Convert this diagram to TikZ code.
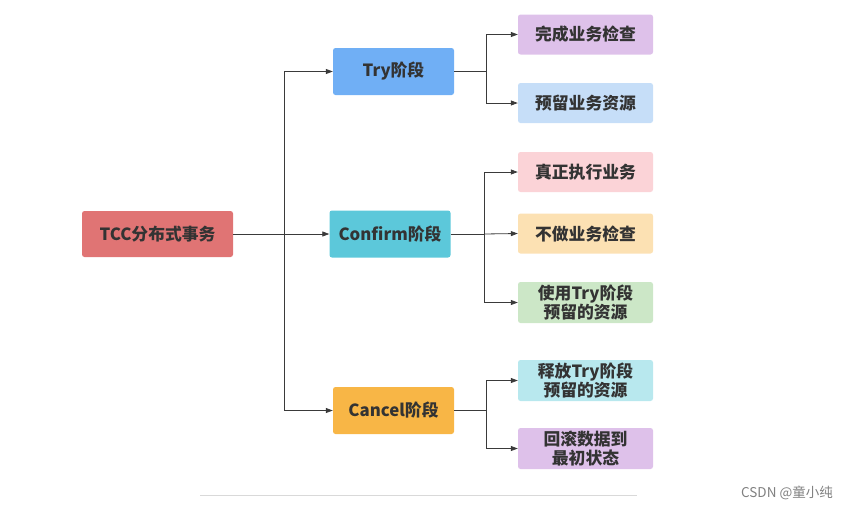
\documentclass[tikz,border=0pt]{standalone}
\usepackage{fontspec}
\setmainfont{Noto Sans CJK SC}
\usetikzlibrary{arrows.meta}
\definecolor{txt}{HTML}{333333}
\definecolor{cRoot}{HTML}{E07474}
\definecolor{cTry}{HTML}{70AFF5}
\definecolor{cConf}{HTML}{5CC8DA}
\definecolor{cCanc}{HTML}{F8B646}
\definecolor{lPurple}{HTML}{DEC1EA}
\definecolor{lBlue}{HTML}{C6DEF8}
\definecolor{lPink}{HTML}{FBD3D7}
\definecolor{lOrange}{HTML}{FCE1B3}
\definecolor{lGreen}{HTML}{CCE7C7}
\definecolor{lCyan}{HTML}{B8E8EE}
\definecolor{lineC}{HTML}{3A3A3A}
\tikzset{
  box/.style={rounded corners=2.5pt, inner sep=0pt, align=center,
    font=\fontsize{16.8}{18.5}\selectfont\bfseries, text=txt},
  stage/.style={box, minimum width=121pt, minimum height=47pt},
  leaf/.style={box, minimum width=135pt, minimum height=40pt},
  conn/.style={draw=lineC, line width=0.8pt, -{Triangle[length=7pt,width=5pt]}},
  plain/.style={draw=lineC, line width=0.8pt}
}
\begin{document}
\begin{tikzpicture}[x=1pt,y=-1pt]
\useasboundingbox (0,0) rectangle (848,509);
\node[box, fill=cRoot, minimum width=151pt, minimum height=46pt] (root) at (157.5,234) {TCC分布式事务};
\node[stage, fill=cTry] (try) at (393.5,71.5) {Try阶段};
\node[stage, fill=cConf] (conf) at (390,234) {Confirm阶段};
\node[stage, fill=cCanc] (canc) at (393.5,410.5) {Cancel阶段};
\node[leaf, fill=lPurple] (t1) at (585.5,34.5) {完成业务检查};
\node[leaf, fill=lBlue] (t2) at (585.5,103) {预留业务资源};
\node[leaf, fill=lPink] (c1) at (585.5,172) {真正执行业务};
\node[leaf, fill=lOrange] (c2) at (585.5,233.5) {不做业务检查};
\node[leaf, fill=lGreen, minimum height=41pt] (c3) at (585.5,302.5) {使用Try阶段\\预留的资源};
\node[leaf, fill=lCyan, minimum height=41pt] (x1) at (585.5,380.5) {释放Try阶段\\预留的资源};
\node[leaf, fill=lPurple, minimum height=41pt] (x2) at (585.5,448.5) {回滚数据到\\最初状态};
% root to stages
\coordinate (rb) at (284,234);
\path[plain] (root.east) -- (rb);
\path[conn] (rb) -- (conf.west);
\path[conn] (rb) |- (try.west);
\path[conn] (rb) |- (canc.west);
% try
\coordinate (tb) at (486,71.5);
\path[plain] (try.east) -- (tb);
\path[conn] (tb) |- (t1.west);
\path[conn] (tb) |- (t2.west);
% confirm
\coordinate (cb) at (484,234);
\path[plain] (conf.east) -- (cb);
\path[conn] (cb) |- (c1.west);
\path[conn] (cb) -- (c2.west);
\path[conn] (cb) |- (c3.west);
% cancel
\coordinate (xb) at (486,410.5);
\path[plain] (canc.east) -- (xb);
\path[conn] (xb) |- (x1.west);
\path[conn] (xb) |- (x2.west);
% bottom rule and watermark
\coordinate (ra) at (200,495.5);
\coordinate (rz) at (637,495.5);
\draw[draw=black!15, line width=1pt] (ra) -- (rz);
\node[anchor=east, text=black!50, font=\fontsize{13.5}{15}\selectfont, inner sep=0pt] (wm) at (833,493) {CSDN @童小纯};
\end{tikzpicture}
\end{document}
